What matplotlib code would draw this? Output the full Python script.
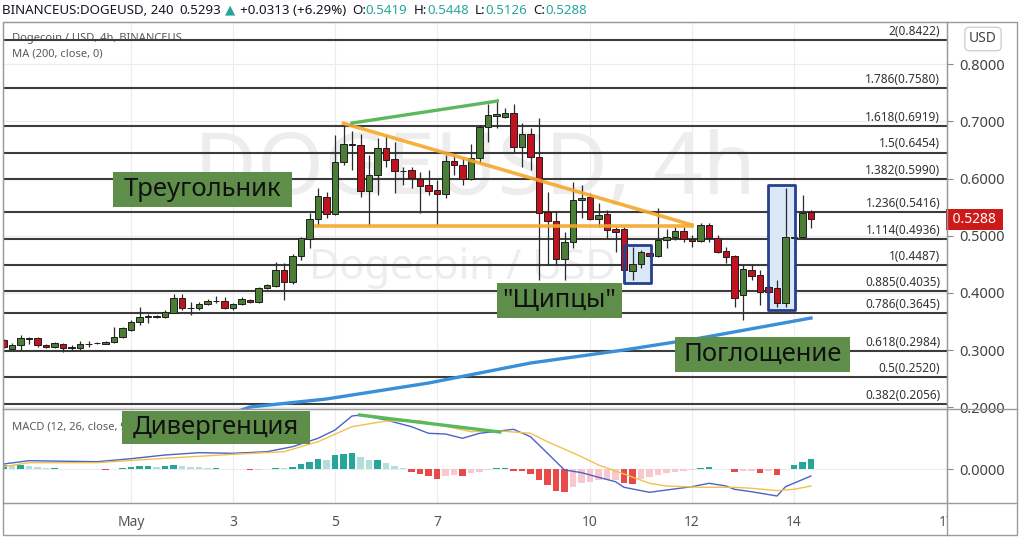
import matplotlib
matplotlib.use('Agg')
import matplotlib.pyplot as plt
from matplotlib.patches import Rectangle
from matplotlib.lines import Line2D
import numpy as np

plt.rcParams['font.family'] = ['Noto Sans', 'DejaVu Sans']

W, H = 1024, 541

# DOGEUSD 4h candles; index 0 = May 1 00:00, one step = 4 hours
first_idx = -15
opens = [0.3175, 0.3026, 0.3084, 0.3206, 0.3205, 0.3093, 0.3058, 0.3110, 0.3040, 0.3040,
         0.3105, 0.3115, 0.3105, 0.3145, 0.3233, 0.3350, 0.3495, 0.3583, 0.3590, 0.3583,
         0.3652, 0.3905, 0.3740, 0.3730, 0.3800, 0.3858, 0.3862, 0.3730, 0.3800, 0.3875,
         0.3835, 0.4080, 0.4125, 0.4400, 0.4184, 0.4645, 0.4942, 0.5286, 0.5682, 0.5379,
         0.6294, 0.6598, 0.6586, 0.5787, 0.6061, 0.6539, 0.6336, 0.6136, 0.6148, 0.5991,
         0.5886, 0.5798, 0.5723, 0.6311, 0.6236, 0.5991, 0.6353, 0.6895, 0.7098, 0.7070,
         0.7140, 0.6545, 0.6773, 0.6371, 0.5409, 0.5257, 0.4592, 0.4884, 0.5624, 0.5681,
         0.5286, 0.5374, 0.5111, 0.5111, 0.4388, 0.4500, 0.4703, 0.4645, 0.4924, 0.4971,
         0.5082, 0.4937, 0.4912, 0.5187, 0.4960, 0.4732, 0.4645, 0.3962, 0.4400, 0.4312,
         0.4107, 0.4080, 0.3817, 0.4972, 0.4972, 0.5419]
highs = [0.3200, 0.3122, 0.3263, 0.3233, 0.3230, 0.3110, 0.3140, 0.3130, 0.3083, 0.3152,
         0.3152, 0.3140, 0.3160, 0.3408, 0.3400, 0.3520, 0.3758, 0.3630, 0.3620, 0.3700,
         0.3980, 0.3980, 0.3840, 0.3840, 0.3900, 0.3944, 0.3933, 0.3830, 0.3920, 0.3900,
         0.4110, 0.4160, 0.4540, 0.4517, 0.4680, 0.4982, 0.5397, 0.5834, 0.5769, 0.6761,
         0.6935, 0.6830, 0.6778, 0.6410, 0.6708, 0.6761, 0.6643, 0.6206, 0.6206, 0.6119,
         0.6148, 0.5973, 0.6410, 0.6410, 0.6353, 0.6603, 0.6935, 0.7297, 0.7390, 0.7228,
         0.7297, 0.6976, 0.6878, 0.7053, 0.5769, 0.5419, 0.5069, 0.5944, 0.5886, 0.5741,
         0.5566, 0.5449, 0.5157, 0.5157, 0.4808, 0.4749, 0.4720, 0.5478, 0.5112, 0.5157,
         0.5157, 0.5012, 0.5216, 0.5216, 0.5012, 0.4808, 0.4662, 0.4487, 0.4487, 0.4400,
         0.4130, 0.4225, 0.5828, 0.4985, 0.5711, 0.5448]
lows = [0.3030, 0.3013, 0.3000, 0.3105, 0.3050, 0.3030, 0.3040, 0.2970, 0.3000, 0.3000,
        0.3058, 0.3100, 0.3100, 0.3128, 0.3210, 0.3330, 0.3438, 0.3468, 0.3560, 0.3560,
        0.3640, 0.3700, 0.3613, 0.3700, 0.3780, 0.3830, 0.3710, 0.3700, 0.3780, 0.3820,
        0.3820, 0.4060, 0.4100, 0.3875, 0.4160, 0.4575, 0.4779, 0.5187, 0.5304, 0.5361,
        0.6236, 0.6148, 0.5681, 0.5187, 0.5711, 0.6206, 0.5741, 0.5886, 0.5829, 0.5391,
        0.5711, 0.5187, 0.5659, 0.6061, 0.5886, 0.5973, 0.6266, 0.6643, 0.6878, 0.7053,
        0.6440, 0.6206, 0.6148, 0.4225, 0.4487, 0.4487, 0.4225, 0.4779, 0.5304, 0.5274,
        0.5157, 0.4954, 0.4720, 0.4342, 0.4225, 0.4429, 0.4620, 0.4633, 0.4779, 0.4924,
        0.4895, 0.4808, 0.4895, 0.4895, 0.4691, 0.4517, 0.3758, 0.3525, 0.4225, 0.3788,
        0.3990, 0.3758, 0.3758, 0.4950, 0.4954, 0.5126]
closes = [0.3058, 0.3084, 0.3206, 0.3195, 0.3082, 0.3048, 0.3117, 0.3035, 0.3045, 0.3100,
          0.3110, 0.3120, 0.3145, 0.3233, 0.3380, 0.3495, 0.3583, 0.3590, 0.3585, 0.3665,
          0.3905, 0.3730, 0.3735, 0.3800, 0.3858, 0.3865, 0.3730, 0.3800, 0.3887, 0.3835,
          0.4080, 0.4137, 0.4400, 0.4184, 0.4645, 0.4954, 0.5286, 0.5694, 0.5379, 0.6294,
          0.6598, 0.6586, 0.5787, 0.6061, 0.6539, 0.6323, 0.6131, 0.6131, 0.6003, 0.5874,
          0.5786, 0.5723, 0.6311, 0.6236, 0.5991, 0.6353, 0.6895, 0.7110, 0.7120, 0.7140,
          0.6545, 0.6773, 0.6371, 0.5391, 0.5257, 0.4592, 0.4884, 0.5624, 0.5660, 0.5286,
          0.5361, 0.5099, 0.5070, 0.4400, 0.4500, 0.4709, 0.4645, 0.4924, 0.4971, 0.5082,
          0.4937, 0.4912, 0.5187, 0.4960, 0.4720, 0.4632, 0.3904, 0.4412, 0.4295, 0.4020,
          0.4020, 0.3817, 0.4972, 0.4960, 0.5402, 0.5288]

# MA(200) read at a few candles
ma_idx = [13, 14, 23, 35, 47, 58, 67, 80]
ma_vals = [0.1951, 0.2004, 0.2144, 0.2423, 0.2773, 0.3001, 0.3210, 0.3560]

# MACD histogram per candle, in thousandths
hist = [4.3, 4.0, 4.3, 3.3, 2.7, 1.7, 1.7, 0.7, 0.3, 0.1,
        0.0, 0.0, -0.3, 0.3, 1.3, 2.3, 3.0, 3.1, 2.7, 3.0,
        4.0, 3.0, 2.7, 2.0, 1.7, 1.7, 0.7, 0.1, 0.0, -1.0,
        -0.3, 0.7, 1.7, 1.6, 2.7, 5.0, 7.3, 10.7, 9.3, 14.0,
        15.3, 16.7, 12.0, 9.0, 9.0, 6.0, 3.0, 1.0, -2.7, -4.7,
        -6.7, -9.3, -6.7, -5.7, -6.7, -4.0, -2.3, -0.3, 1.0, 1.7,
        -1.3, -1.7, -4.7, -10.7, -15.7, -21.3, -22.7, -18.0, -14.0, -13.0,
        -10.7, -10.7, -10.7, -14.0, -14.3, -10.0, -8.0, -5.7, -4.0, -2.3,
        -1.3, -0.3, 1.3, 2.0, 0.3, 0.0, -3.0, -2.0, -2.0, -4.0,
        -2.0, -5.7, 0.3, 4.0, 7.3, 10.0]
macd_idx = [-15, -12, -4, 0, 4, 8, 12, 16, 19, 22, 24, 26, 27, 30, 33, 35, 37, 39, 41,
            43, 45, 47, 49, 51, 53, 55, 57, 58, 61, 63, 66, 68, 70, 71, 73, 76, 77, 80]
macd_vals = [5.3, 8.6, 7.6, 10.6, 14.3, 16.6, 16.0, 17.6, 22.6, 31.0, 39.3, 53.3, 54.3,
             49.3, 42.6, 36.0, 35.3, 31.0, 36.0, 38.0, 40.0, 32.6, 16.0, -0.7, -3.3, -8.0,
             -12.4, -18.0, -23.0, -20.7, -17.4, -14.0, -16.7, -20.0, -22.4, -26.7, -17.4, -6.7]
signal_idx = [-15, -12, -4, 4, 12, 18, 22, 26, 30, 34, 40, 43, 47, 49, 53, 55, 58, 61,
              63, 67, 71, 73, 76, 78, 80]
signal_vals = [2.6, 6.6, 6.6, 11.0, 15.0, 17.6, 27.6, 42.6, 48.3, 48.6, 37.6, 38.6, 36.0,
               27.6, 12.6, 4.3, -4.7, -14.0, -16.7, -18.0, -18.0, -19.0, -21.3, -20.0, -16.7]

# Fibonacci levels
fib_ratios = ['2', '1.786', '1.618', '1.5', '1.382', '1.236', '1.114', '1', '0.885',
              '0.786', '0.618', '0.5', '0.382']
fib_prices = [0.8422, 0.7580, 0.6919, 0.6454, 0.5990, 0.5416, 0.4936, 0.4487, 0.4035,
              0.3645, 0.2984, 0.2520, 0.2056]

# hand-drawn annotations (candle index, price)
tri_upper = ([25, 66], [0.6965, 0.5187])
tri_lower = ([21.8, 66], [0.5169, 0.5169])
div_price = ([26, 43.1], [0.6970, 0.7355])
div_macd = ([26.9, 43.4], [54.3, 37.3])
tweezer_box = (58.0, 61.2, 0.4167, 0.4837)
engulf_box = (74.9, 78.1, 0.3700, 0.5886)

price_ticks = [0.2, 0.3, 0.4, 0.5, 0.6, 0.7, 0.8]
day_numbers = [1, 3, 5, 7, 10, 12, 14, 17]
day_labels = ['May', '3', '5', '7', '10', '12', '14', '17']

GREEN = '#4a7d35'
RED = '#c1121f'
DARK = '#131722'
TEAL = '#26a69a'
FRAME = '#9a9a9a'
LABEL_BG = '#5e8e4a'


def px_rect(x0, y0, x1, y1):
    return [x0 / W, 1 - y1 / H, (x1 - x0) / W, (y1 - y0) / H]


fig = plt.figure(figsize=(W / 100, H / 100), dpi=100)
fig.patch.set_facecolor('white')
ax = fig.add_axes(px_rect(3, 22, 947, 409))
axm = fig.add_axes(px_rect(3, 409, 947, 503), sharex=ax)

idx = np.arange(first_idx, first_idx + len(opens))
o, hi, lo, c = (np.array(v) for v in (opens, highs, lows, closes))
cols = np.where(c >= o, GREEN, RED)
day_pos = [6 * (d - 1) for d in day_numbers]

# --- price panel
ax.set_xlim(-15.06, 96)
ax.set_ylim(0.1969, 0.8737)
ax.set_xticks(day_pos)
ax.set_yticks(price_ticks)
ax.set_yticklabels([f'{v:.4f}' for v in price_ticks])
ax.yaxis.tick_right()
ax.tick_params(axis='y', length=4, color='#888888', labelsize=10.5, labelcolor='#444444', pad=5)
ax.tick_params(axis='x', bottom=False, labelbottom=False)
ax.grid(color='#ececec', lw=0.8)
ax.set_axisbelow(True)
for s in ax.spines.values():
    s.set_color(FRAME)

ax.text(40.5, 0.612, 'DOGEUSD, 4h', fontsize=62, color='#ededed', ha='center', va='center', zorder=0.5)
ax.text(39, 0.443, 'Dogecoin / USD', fontsize=30, color='#ededed', ha='center', va='center', zorder=0.5)

for r, p in zip(fib_ratios, fib_prices):
    ax.axhline(p, color='#3c3c3c', lw=1.5, zorder=2)
    ax.annotate(f'{r}({p:.4f})', xy=(95.2, p), xytext=(0, 1.5), textcoords='offset points',
                ha='right', va='bottom', fontsize=8.5, color='#333333', zorder=2)

ax.text(12 / W, 1 - 38 / H, 'Dogecoin / USD, 4h, BINANCEUS', transform=fig.transFigure,
        fontsize=8, color='#5a5a5a', va='center', zorder=1)
ax.text(12 / W, 1 - 54 / H, 'MA (200, close, 0)', transform=fig.transFigure,
        fontsize=8, color='#5a5a5a', va='center', zorder=1)

# highlight boxes: fill under the candles, outline above
for x0, x1, y0, y1 in (tweezer_box, engulf_box):
    ax.add_patch(Rectangle((x0, y0), x1 - x0, y1 - y0, facecolor='#dbe8f8',
                           edgecolor='none', zorder=2.5))
    ax.add_patch(Rectangle((x0, y0), x1 - x0, y1 - y0, facecolor='none',
                           edgecolor='#27408b', lw=2, joinstyle='round', zorder=6))

ax.vlines(idx, lo, hi, color='#2b2b2b', lw=0.9, zorder=3)
ax.bar(idx, np.maximum(np.abs(c - o), 0.0008), bottom=np.minimum(o, c), width=0.72,
       color=cols, edgecolor='#1e1e1e', lw=0.7, zorder=4)

ax.plot(ma_idx, ma_vals, color='#3a8fd9', lw=2.4, zorder=5)
ax.plot(*tri_upper, color='#f5a72c', lw=2.6, alpha=0.9, zorder=5)
ax.plot(*tri_lower, color='#f5a72c', lw=2.6, alpha=0.9, zorder=5)
ax.plot(*div_price, color='#5cb85c', lw=2.4, zorder=5)

last = closes[-1]
ax.text(1.002, last, f' {last:.4f} ', transform=ax.get_yaxis_transform(), ha='left', va='center',
        fontsize=10, fontweight='bold', color='white', zorder=7, clip_on=False,
        bbox=dict(boxstyle='square,pad=0.22', facecolor='#cc1a1a', edgecolor='none'))

# --- MACD panel
hv = np.array(hist)
prev = np.concatenate([[hv[0]], hv[:-1]])
hcols = np.where(hv >= 0, np.where(hv >= prev, TEAL, '#b2dfdb'),
                 np.where(hv < prev, '#e84a4a', '#f9c8ce'))
axm.bar(idx, hv * 1e-3, width=0.8, color=hcols, zorder=2)
axm.plot(macd_idx, np.array(macd_vals) * 1e-3, color='#4a63c8', lw=1, zorder=3)
axm.plot(signal_idx, np.array(signal_vals) * 1e-3, color='#f2c14e', lw=1, zorder=3)
axm.plot(div_macd[0], np.array(div_macd[1]) * 1e-3, color='#5cb85c', lw=2.4, zorder=4)
axm.set_ylim(-0.0337, 0.0603)
axm.set_yticks([0])
axm.set_yticklabels(['0.0000'])
axm.yaxis.tick_right()
axm.tick_params(axis='y', length=4, color='#888888', labelsize=10.5, labelcolor='#444444', pad=5)
axm.set_xticks(day_pos)
axm.set_xticklabels(day_labels)
axm.tick_params(axis='x', length=0, pad=9, labelsize=10, labelcolor='#555555')
axm.get_xticklabels()[0].set_fontweight('bold')
axm.grid(color='#ececec', lw=0.8)
axm.set_axisbelow(True)
for s in axm.spines.values():
    s.set_color(FRAME)
axm.text(12 / W, 1 - 427 / H, 'MACD (12, 26, close, 9)', transform=fig.transFigure,
         fontsize=8, color='#5a5a5a', va='center', zorder=1)

# --- frame, price-scale column
fig.add_artist(Rectangle((948 / W, 1 - 534 / H), 68 / W, 30 / H, transform=fig.transFigure,
                         facecolor='white', edgecolor='none', zorder=5))
fig.add_artist(Rectangle((3 / W, 1 - 535 / H), 1014 / W, 513 / H, transform=fig.transFigure,
                         facecolor='none', edgecolor=FRAME, lw=1, zorder=6))
for yy in (409, 503):
    fig.add_artist(Line2D([3 / W, 1017 / W], [1 - yy / H] * 2, color=FRAME, lw=1, zorder=6))
fig.add_artist(Line2D([947 / W] * 2, [1 - 535 / H, 1 - 22 / H], color=FRAME, lw=1, zorder=6))
fig.text(983 / W, 1 - 39 / H, 'USD', fontsize=10, color='#444444', ha='center', va='center',
         bbox=dict(boxstyle='round,pad=0.3', facecolor='white', edgecolor='#d0d0d0'))

# --- pattern labels
labels = [('Треугольник', 113, 172, 292, 207), ('"Щипцы"', 497, 283, 622, 318),
          ('Поглощение', 675, 337, 850, 372), ('Дивергенция', 122, 411, 310, 444)]
for s, x0, y0, x1, y1 in labels:
    fig.add_artist(Rectangle((x0 / W, 1 - y1 / H), (x1 - x0) / W, (y1 - y0) / H,
                             transform=fig.transFigure, facecolor=LABEL_BG, edgecolor='none', zorder=8))
    fig.text((x0 + x1) / 2 / W, 1 - (y0 + y1) / 2 / H, s, fontsize=18.5, color='#111111',
             ha='center', va='center', zorder=9)

# --- header line
renderer = fig.canvas.get_renderer()
header = [('BINANCEUS:DOGEUSD, 240', DARK, 'bold', 6), ('0.5293', DARK, 'normal', 4),
          ('▲', TEAL, 'normal', 4), ('+0.0313 (+6.29%)', DARK, 'normal', 6),
          ('O:', DARK, 'bold', 0), ('0.5419', TEAL, 'normal', 6),
          ('H:', DARK, 'bold', 0), ('0.5448', TEAL, 'normal', 6),
          ('L:', DARK, 'bold', 0), ('0.5126', TEAL, 'normal', 6),
          ('C:', DARK, 'bold', 0), ('0.5288', TEAL, 'normal', 0)]
xpos = 2
for s, col, wt, gap in header:
    t = fig.text(xpos / W, 1 - 10 / H, s, color=col, fontweight=wt, fontsize=9.6,
                 ha='left', va='center')
    xpos = t.get_window_extent(renderer).x1 + gap

fig.savefig('out.png', dpi=100)
